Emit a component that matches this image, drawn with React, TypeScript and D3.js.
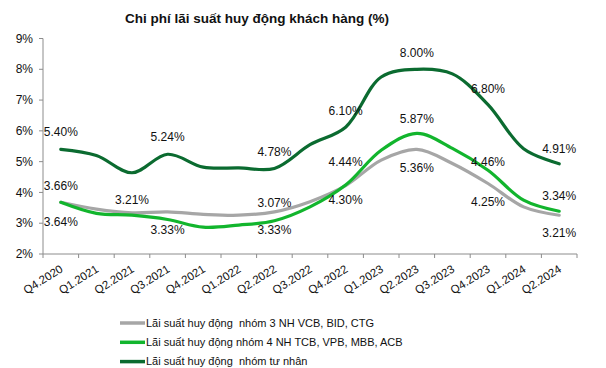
import * as d3 from "d3";

const WIDTH = 606;
const HEIGHT = 368;
const MARGIN = { top: 38.5, right: 29, bottom: 114, left: 43 };

const QUARTERS = [
  "Q4.2020", "Q1.2021", "Q2.2021", "Q3.2021", "Q4.2021", "Q1.2022", "Q2.2022",
  "Q3.2022", "Q4.2022", "Q1.2023", "Q2.2023", "Q3.2023", "Q4.2023", "Q1.2024", "Q2.2024"
];

const STATE_BANKS = [3.68, 3.46, 3.34, 3.37, 3.29, 3.26, 3.37, 3.7, 4.22, 5.05, 5.4, 4.94, 4.29, 3.53, 3.26];
const PRIVATE_4 = [3.68, 3.32, 3.26, 3.12, 2.87, 2.94, 3.08, 3.53, 4.24, 5.37, 5.92, 5.43, 4.72, 3.75, 3.39];
const PRIVATE_ALL = [5.4, 5.2, 4.64, 5.24, 4.82, 4.8, 4.78, 5.55, 6.12, 7.75, 8.0, 7.85, 6.85, 5.42, 4.93];

const Y_TICKS = [2, 3, 4, 5, 6, 7, 8, 9];

const SERIES = [
  { name: "Lãi suất huy động  nhóm 3 NH VCB, BID, CTG", values: STATE_BANKS, color: "#a6a6a6" },
  { name: "Lãi suất huy động nhóm 4 NH TCB, VPB, MBB, ACB", values: PRIVATE_4, color: "#12b52d" },
  { name: "Lãi suất huy động  nhóm tư nhân", values: PRIVATE_ALL, color: "#0b6b30" }
];

// data labels: category index, text, value level where the text sits
const LABELS: [number, string, number][] = [
  [0, "5.40%", 5.96],
  [3, "5.24%", 5.8],
  [6, "4.78%", 5.32],
  [0, "3.66%", 4.21],
  [2, "3.21%", 3.75],
  [6, "3.07%", 3.65],
  [0, "3.64%", 3.05],
  [3, "3.33%", 2.78],
  [6, "3.33%", 2.78],
  [10, "8.00%", 8.54],
  [12, "6.80%", 7.35],
  [8, "6.10%", 6.64],
  [10, "5.87%", 6.4],
  [14, "4.91%", 5.43],
  [8, "4.44%", 4.99],
  [12, "4.46%", 5.01],
  [10, "5.36%", 4.81],
  [8, "4.30%", 3.75],
  [12, "4.25%", 3.68],
  [14, "3.34%", 3.89],
  [14, "3.21%", 2.68]
];

export default function App() {
  const plotBottom = HEIGHT - MARGIN.bottom;
  const x = d3
    .scaleBand()
    .domain(QUARTERS)
    .range([MARGIN.left, WIDTH - MARGIN.right]);
  const y = d3.scaleLinear().domain([2, 9]).range([plotBottom, MARGIN.top]);
  const cx = (i: number) => (x(QUARTERS[i]) ?? 0) + x.bandwidth() / 2;

  const line = d3
    .line<number>()
    .x((_, i) => cx(i))
    .y((v) => y(v))
    .curve(d3.curveCatmullRom.alpha(0.5));

  const boundaries = QUARTERS.map((q) => x(q) ?? 0).concat([WIDTH - MARGIN.right]);
  const axisColor = "#8c8c8c";

  return (
    <svg
      width={WIDTH}
      height={HEIGHT}
      style={{ position: "absolute", left: 0, top: 0, background: "#fff" }}
      fontFamily="'Liberation Sans', Arial, sans-serif"
    >
      <text x={257} y={23} textAnchor="middle" fontSize="13.5" fontWeight="bold" fill="#111">
        Chi phí lãi suất huy động khách hàng (%)
      </text>

      {/* y axis */}
      <line x1={MARGIN.left} x2={MARGIN.left} y1={y(9)} y2={plotBottom} stroke={axisColor} />
      {Y_TICKS.map((t) => (
        <g key={t}>
          <line x1={MARGIN.left - 4} x2={MARGIN.left} y1={y(t)} y2={y(t)} stroke={axisColor} />
          <text x={MARGIN.left - 10} y={y(t)} dy="0.35em" textAnchor="end" fontSize="12" fill="#111">
            {t}%
          </text>
        </g>
      ))}

      {/* x axis */}
      <line x1={MARGIN.left} x2={WIDTH - MARGIN.right} y1={plotBottom} y2={plotBottom} stroke={axisColor} />
      {boundaries.map((b, i) => (
        <line key={i} x1={b} x2={b} y1={plotBottom} y2={plotBottom + 4} stroke={axisColor} />
      ))}
      {QUARTERS.map((q, i) => (
        <text
          key={q}
          transform={`translate(${cx(i) + 3},${plotBottom + 17}) rotate(-32)`}
          textAnchor="end"
          fontSize="11.5"
          fill="#111"
        >
          {q}
        </text>
      ))}

      {SERIES.map((s) => (
        <path
          key={s.name}
          d={line(s.values) ?? ""}
          fill="none"
          stroke={s.color}
          strokeWidth="3.2"
          strokeLinecap="round"
          strokeLinejoin="round"
        />
      ))}

      {LABELS.map(([i, text, at], k) => (
        <text key={k} x={cx(i)} y={y(at)} dy="0.35em" textAnchor="middle" fontSize="12" fill="#111">
          {text}
        </text>
      ))}

      {SERIES.map((s, k) => (
        <g key={s.name} transform={`translate(120,${323 + k * 19.3})`}>
          <line x1={0} x2={25} y1={0} y2={0} stroke={s.color} strokeWidth="3.5" />
          <text x={26} y={0} dy="0.35em" fontSize="11" fill="#111" style={{ whiteSpace: "pre" }}>
            {s.name}
          </text>
        </g>
      ))}
    </svg>
  );
}
